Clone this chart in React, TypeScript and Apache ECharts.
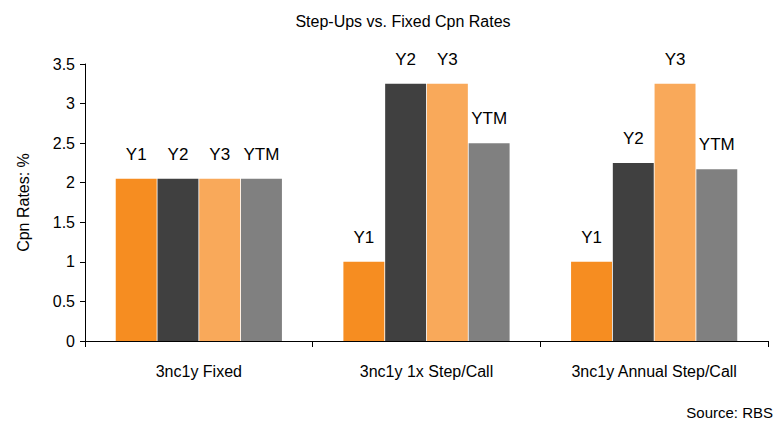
import React, { useEffect, useRef } from "react";
import * as echarts from "echarts";

const categories = ["3nc1y Fixed", "3nc1y 1x Step/Call", "3nc1y Annual Step/Call"];
const seriesNames = ["Y1", "Y2", "Y3", "YTM"];
const y1 = [2.05, 1.0, 1.0];
const y2 = [2.05, 3.25, 2.25];
const y3 = [2.05, 3.25, 3.25];
const ytm = [2.05, 2.5, 2.17];
const yTicks = [0, 0.5, 1, 1.5, 2, 2.5, 3, 3.5];
const colors = ["#F68D21", "#404040", "#F9A95A", "#808080"];

const FONT = "'Liberation Sans', Arial, sans-serif";

export default function App() {
  const ref = useRef<HTMLDivElement>(null);
  useEffect(() => {
    if (!ref.current) return;
    const chart = echarts.init(ref.current, null, { renderer: "svg" });
    const data = [y1, y2, y3, ytm];
    chart.setOption({
      animation: false,
      textStyle: { fontFamily: FONT },
      title: {
        text: "Step-Ups vs. Fixed Cpn Rates",
        left: 398,
        textAlign: "center",
        top: 8,
        textStyle: { fontFamily: FONT, fontSize: 16, fontWeight: "normal", color: "#000" },
      },
      graphic: [
        {
          type: "text",
          right: 2,
          bottom: 3,
          style: { text: "Source: RBS", fontFamily: FONT, fontSize: 15, fill: "#000" },
        },
      ],
      grid: { left: 85, right: 7, top: 64, bottom: 82 },
      xAxis: {
        type: "category",
        data: categories,
        axisLine: { lineStyle: { color: "#000", width: 1 } },
        axisTick: { show: true, length: 6, lineStyle: { color: "#000" } },
        axisLabel: {
          color: "#000",
          fontSize: 16,
          margin: 22,
          interval: 0,
          hideOverlap: false,
          fontFamily: FONT,
        },
      },
      yAxis: {
        type: "value",
        min: 0,
        max: 3.5,
        interval: 0.5,
        name: "Cpn Rates: %",
        nameLocation: "middle",
        nameGap: 54,
        nameTextStyle: { color: "#000", fontSize: 16, fontFamily: FONT },
        axisLine: { show: true, lineStyle: { color: "#000", width: 1 } },
        axisTick: { show: true, length: 5, lineStyle: { color: "#000" } },
        splitLine: { show: false },
        axisLabel: {
          color: "#000",
          fontSize: 16,
          margin: 10,
          fontFamily: FONT,
          formatter: (v: number) => (yTicks.includes(v) ? String(v) : ""),
        },
      },
      series: seriesNames.map((name, i) => ({
        name,
        type: "bar",
        data: data[i],
        barGap: "2%",
        barCategoryGap: "27%",
        itemStyle: { color: colors[i] },
        label: {
          show: true,
          position: "top",
          distance: 16,
          formatter: name,
          color: "#000",
          fontSize: 17,
          fontFamily: FONT,
        },
      })),
    });
    return () => chart.dispose();
  }, []);
  return (
    <div
      ref={ref}
      style={{ position: "absolute", left: 0, top: 0, width: 775, height: 423 }}
    />
  );
}
